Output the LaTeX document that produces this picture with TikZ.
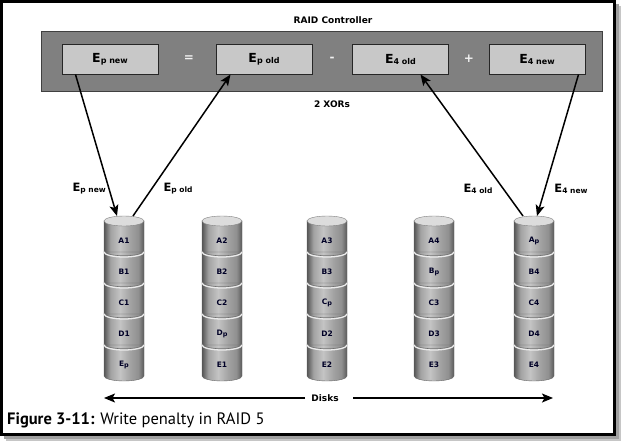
\documentclass[tikz,border=0pt]{standalone}
\usepackage{fontspec}
\setmainfont{DejaVu Sans}
\newfontfamily\capfont{PT Sans}
\usetikzlibrary{arrows.meta,calc}
\definecolor{cA}{HTML}{555555}
\definecolor{cB}{HTML}{A2A2A2}
\definecolor{cC}{HTML}{C4C4C4}
\definecolor{cD}{HTML}{909090}
\definecolor{cE}{HTML}{5A5A5A}
\definecolor{ctrlfill}{HTML}{808080}
\definecolor{boxfill}{HTML}{C8C8C8}
\definecolor{topfill}{HTML}{DCDCDC}
\pgfdeclarehorizontalshading{cylshade}{100bp}{color(0bp)=(cA); color(25bp)=(cA); color(33bp)=(cB); color(45bp)=(cC); color(58bp)=(cB); color(68bp)=(cD); color(75bp)=(cE); color(100bp)=(cE)}
\newcommand\Elab[2]{{\fontsize{12.5}{12.5}\selectfont #1}{\fontsize{8}{8}\selectfont\raisebox{-1pt}{#2}}}
\newcommand\Olab[2]{{\fontsize{11.5}{11.5}\selectfont #1}{\fontsize{7.5}{7.5}\selectfont\raisebox{-1pt}{#2}}}
\newcommand\sbp[1]{#1\raisebox{-1.5pt}{\fontsize{6.5}{6.5}\selectfont p}}
\tikzset{
  ctrlbox/.style={draw=black!75, line width=1pt, fill=ctrlfill, minimum width=561pt, minimum height=60pt, inner sep=0pt},
  regbox/.style={draw=black!85, line width=1pt, fill=boxfill, minimum width=96pt, minimum height=30pt, inner sep=0pt, font=\bfseries},
  optext/.style={font=\bfseries\fontsize{12}{12}\selectfont, text=white!95!black, inner sep=0pt},
  smalltext/.style={font=\bfseries\fontsize{9}{9}\selectfont, inner sep=1pt},
  outlab/.style={font=\bfseries, inner sep=0pt},
  seglab/.style={font=\bfseries\fontsize{7.5}{7.5}\selectfont, text=black!85!blue, inner sep=0pt},
  arr/.style={line width=1.5pt, -{Stealth[length=11pt,width=9pt,inset=2.5pt]}},
  darr/.style={line width=1.5pt, -{Stealth[length=11pt,width=9pt,inset=2.5pt]}},
}
\begin{document}
\begin{tikzpicture}[x=1pt,y=-1pt]
\useasboundingbox (0,0) rectangle (622,442);
% frame with shadow
\fill[gray!45] (6,6) rectangle (621,441);
\fill[gray!75] (4,4) rectangle (618.5,438.5);
\draw[line width=3pt, fill=white] (1.5,1.5) rectangle (614.5,434.5);

% controller
\node[smalltext] (title) at (333,20) {RAID Controller};
\node[ctrlbox] (ctrl) at (321.5,61) {};
\node[regbox] (epn) at (110,59) {\Elab{E}{p new}};
\node[regbox] (epo) at (264,59) {\Elab{E}{p old}};
\node[regbox] (e4o) at (400.5,59) {\Elab{E}{4 old}};
\node[regbox] (e4n) at (537,59) {\Elab{E}{4 new}};
\node[optext] (eq) at (189,59) {=};
\node[optext] (mi) at (332,59) {-};
\node[optext] (pl) at (469,59) {+};
\node[smalltext] (xors) at (332,104) {2 XORs};

% disks
\foreach \n/\cx/\la/\lb/\lc/\ld/\le in {
  1/124/A1/B1/C1/D1/\sbp{E},
  2/222/A2/B2/C2/\sbp{D}/E1,
  3/327/A3/B3/\sbp{C}/D2/E2,
  4/434/A4/\sbp{B}/C3/D3/E3,
  5/534/\sbp{A}/B4/C4/D4/E4}{
  \foreach \i in {0,...,4}{
    \pgfmathsetmacro\yt{221+\i*31}
    \pgfmathsetmacro\yb{\yt+31}
    \path[shading=cylshade, draw=black!60, line width=0.4pt]
      (\cx-20,\yt) -- (\cx-20,\yb) arc[start angle=180,end angle=0,x radius=20,y radius=5] -- (\cx+20,\yt) -- cycle;
  }
  \foreach \i in {1,...,4}{
    \pgfmathsetmacro\yb{221+\i*31}
    \draw[black!55, line width=0.6pt] (\cx-20,\yb-1.2) arc[start angle=180,end angle=0,x radius=20,y radius=5];
    \draw[white!92!black, line width=1.3pt] (\cx-20,\yb) arc[start angle=180,end angle=0,x radius=20,y radius=5];
  }
  \fill[topfill, draw=black!50, line width=0.4pt] (\cx,221) ellipse[x radius=20,y radius=5];
  \coordinate (top\n) at (\cx,216);
  \node[seglab] (d\n a) at (\cx,241) {\la};
  \node[seglab] (d\n b) at (\cx,272) {\lb};
  \node[seglab] (d\n c) at (\cx,303) {\lc};
  \node[seglab] (d\n d) at (\cx,334) {\ld};
  \node[seglab] (d\n e) at (\cx,365) {\le};
}

% arrows
\draw[arr] ([xshift=14pt]epn.south west) -- ([xshift=-7pt]top1);
\draw[arr] ([xshift=9pt]top1) -- ([xshift=15pt]epo.south west);
\draw[arr] ([xshift=-11pt]top5) -- ([xshift=20pt]e4o.south);
\draw[arr] ([xshift=-7pt]e4n.south east) -- ([xshift=3pt]top5);

\node[outlab, anchor=east] (lepn) at (106,189) {\Olab{E}{p new}};
\node[outlab] (lepo) at (178,189) {\Olab{E}{p old}};
\node[outlab] (le4o) at (478,189) {\Olab{E}{4 old}};
\node[outlab] (le4n) at (571,189) {\Olab{E}{4 new}};

% disks arrow
\node[smalltext] (disks) at (325,398) {Disks};
\coordinate (dl) at (104,398);
\coordinate (dr) at (553,398);
\draw[darr] ([xshift=-20pt]disks.center) -- (dl);
\draw[darr] ([xshift=28pt]disks.center) -- (dr);

% caption
\node[anchor=west, inner sep=0pt, font=\capfont\fontsize{16.5}{16.5}\selectfont] (cap) at (7,420) {\textbf{Figure 3-11:} Write penalty in RAID 5};
\end{tikzpicture}
\end{document}
